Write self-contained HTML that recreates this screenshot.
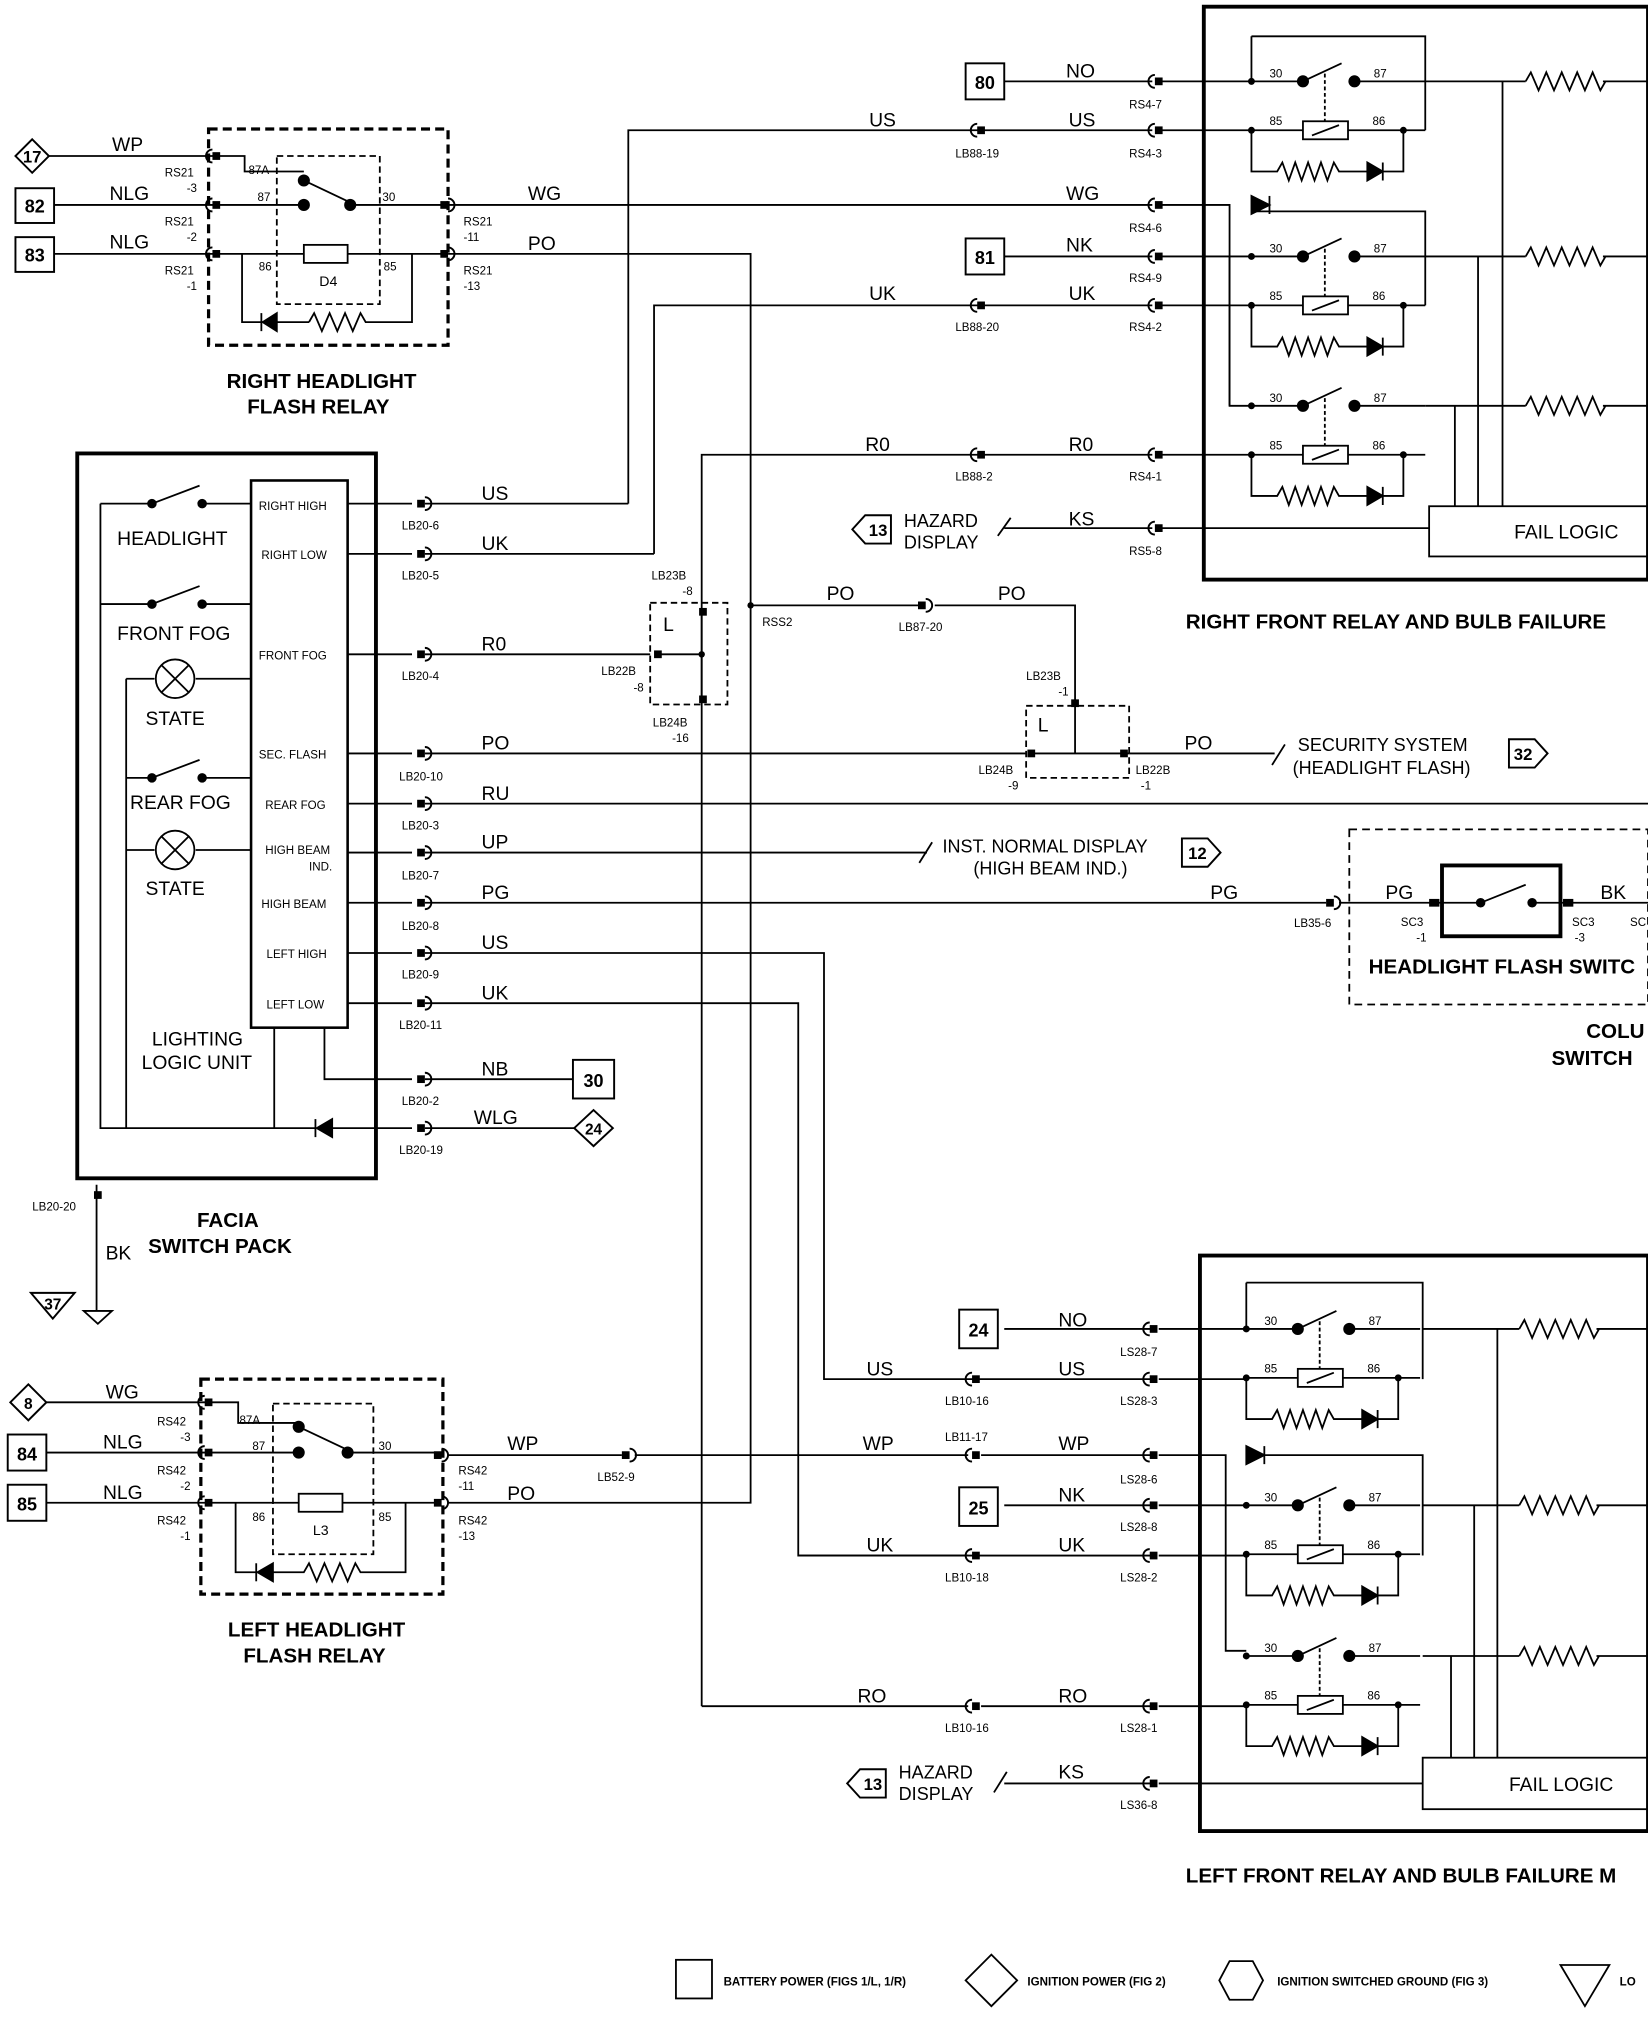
<!DOCTYPE html>
<html><head><meta charset="utf-8"><style>
html,body{margin:0;padding:0;background:#fff}
svg{display:block}
text{font-family:"Liberation Sans",sans-serif;fill:#000}
.w{font-size:15px}
.s{font-size:9px}
.b{font-size:16px;font-weight:bold}
.m{font-size:14px}
</style></head><body>
<svg width="1648" height="2018" viewBox="0 0 1280 1567" xmlns="http://www.w3.org/2000/svg">
<defs>
<g id="cn"><rect x="-3" y="-3" width="6" height="6" fill="#000"/><path d="M3,-5 A5,5 0 0 1 3,5" fill="none" stroke="#000" stroke-width="1.5"/></g>
<g id="cl"><rect x="-3" y="-3" width="6" height="6" fill="#000"/><path d="M-3,-5 A5,5 0 0 0 -3,5" fill="none" stroke="#000" stroke-width="1.5"/></g>
<g id="rl" fill="none" stroke="#000" stroke-width="1.4">
<path d="M0,0 H40 M40,0 L70,-14 M80,0 H135 M0,38 H40 M75,38 H135"/>
<circle cx="40" cy="0" r="4" fill="#000"/><circle cx="80" cy="0" r="4" fill="#000"/>
<rect x="40" y="31" width="35" height="14"/><path d="M47,42 L68,34"/>
<path d="M57,-6 V31" stroke-dasharray="3,2"/>
<path d="M0,38 V70 H20 l4,-7 l5,14 l5,-14 l5,14 l5,-14 l5,14 l5,-14 l5,14 l5,-14 l4,7 H90"/>
<path d="M90,63 V77 L102,70 Z" fill="#000"/><path d="M102,63 V77 M102,70 H118 V38"/>
<circle cx="0" cy="0" r="2" fill="#000"/><circle cx="0" cy="38" r="2" fill="#000"/><circle cx="118" cy="38" r="2" fill="#000"/>
<text x="14" y="-3" style="font-size:9px;stroke:none">30</text><text x="95" y="-3" style="font-size:9px;stroke:none">87</text>
<text x="14" y="34" style="font-size:9px;stroke:none">85</text><text x="94" y="34" style="font-size:9px;stroke:none">86</text>
</g>
<path id="zz" d="M0,0 l4,-7 l6,14 l6,-14 l6,14 l6,-14 l6,14 l6,-14 l6,14 l6,-14 l6,14 l4,-7" fill="none" stroke="#000" stroke-width="1.4"/>
</defs>
<g fill="none" stroke="#000" stroke-width="1.4">
<rect x="162" y="100" width="186" height="168" stroke-dasharray="7,4" stroke-width="2.5"/>
<rect x="215" y="121" width="80" height="115" stroke-dasharray="5,3"/>
<path d="M38,121 H168 M42,159 H168 M42,197 H168"/>
<path d="M168,121 H190 V133 H236 M168,159 H236 M236,140 L272,157 M272,159 H345 M168,197 H236 M270,197 H345"/>
<circle cx="236" cy="140" r="4" fill="#000"/><circle cx="236" cy="159" r="4" fill="#000"/><circle cx="272" cy="159" r="4" fill="#000"/>
<rect x="236" y="190" width="34" height="14"/>
<path d="M188,197 V250 H205 M215,250 H240 M240,250 l4,-7 l6,14 l6,-14 l6,14 l6,-14 l6,14 l6,-14 l4,7 H320 V197"/>
<path d="M215,243 V257 L204,250 Z" fill="#000"/><path d="M203,243 V257"/>
<path d="M348,159 H895 M348,197 H583 V1167 H348"/>
<path d="M488,391 V101 H895 M508,430 V237 H895 M545,1325 V353 H895"/>
<path d="M780,63 H895 M780,199 H895 M780,410 H895"/>
<rect x="935" y="5" width="345" height="445" stroke-width="3"/>
<path d="M900,63 H972 M900,101 H972 M900,199 H972 M900,237 H972 M900,353 H972 M900,159 H955 V315 H972"/>
<path d="M972,28 H1107 V101 M972,28 V63 M972,164 H1107 V237 M1107,63 H1185 M1245,63 H1280 M1107,199 H1185 M1245,199 H1280 M1107,315 H1185 M1245,315 H1280"/>
<path d="M972,159 L986,159" /><path d="M972,152 V166 L986,159 Z" fill="#000"/><path d="M986,152 V166"/>
<path d="M1167,63 V393 M1148,199 V393 M1130,315 V393 M955,199 V315"/>
<rect x="1110" y="393" width="170" height="39"/>
<path d="M900,410 H1110"/>
<path d="M775,416 l10,-14"/>
<rect x="60" y="352" width="232" height="563" stroke-width="3"/>
<rect x="195" y="373" width="75" height="425" stroke-width="2"/>
<path d="M78,391 H118 M118,391 L155,377 M157,391 H195 M78,391 V876 H245 M78,469 H118 L155,455 M157,469 H195 M98,527 H120 M152,527 H195 M98,527 V876 M98,604 H118 L155,590 M157,604 H195 M98,660 H120 M152,660 H195"/>
<circle cx="118" cy="391" r="3" fill="#000"/><circle cx="157" cy="391" r="3" fill="#000"/><circle cx="118" cy="469" r="3" fill="#000"/><circle cx="157" cy="469" r="3" fill="#000"/><circle cx="118" cy="604" r="3" fill="#000"/><circle cx="157" cy="604" r="3" fill="#000"/>
<circle cx="136" cy="527" r="15"/><path d="M125,516 L147,538 M147,516 L125,538"/>
<circle cx="136" cy="660" r="15"/><path d="M125,649 L147,671 M147,649 L125,671"/>
<path d="M213,798 V876 M252,798 V838 H320 M257,876 H320"/>
<path d="M258,869 V883 L246,876 Z" fill="#000"/><path d="M245,869 V883"/>
<path d="M270,391 H320 M270,430 H320 M270,508 H320 M270,585 H320 M270,624 H320 M270,662 H320 M270,701 H320 M270,740 H320 M270,779 H320"/>
<path d="M330,391 H488 M330,430 H508 M330,508 H505 M330,585 H797 M330,624 H1280 M330,662 H720 M330,701 H1030 M330,740 H640 V1071 H895 M330,779 H620 V1208 H895 M330,838 H445 M330,876 H447"/>
<path d="M714,670 l10,-16 M988,594 l10,-16"/>
<path d="M877,585 H990"/>
<rect x="505" y="468" width="60" height="79" stroke-dasharray="5,3"/>
<path d="M545,475 V545 M510,508 H545"/>
<path d="M583,470 H713 M726,470 H835 V548"/>
<rect x="797" y="548" width="80" height="56" stroke-dasharray="5,3"/>
<path d="M835,548 V585 M800,585 H877"/>
<path d="M75,920 V1018 M65,1018 H87 L76,1028 Z"/>
<rect x="1048" y="644" width="232" height="136" stroke-dasharray="6,4"/>
<rect x="1120" y="672" width="92" height="55" stroke-width="3"/>
<path d="M1040,701 H1150 L1185,687 M1190,701 H1280"/>
<circle cx="1150" cy="701" r="3" fill="#000"/><circle cx="1190" cy="701" r="3" fill="#000"/>
<rect x="156" y="1071" width="188" height="167" stroke-dasharray="7,4" stroke-width="2.5"/>
<rect x="212" y="1090" width="78" height="117" stroke-dasharray="5,3"/>
<path d="M36,1089 H162 M36,1128 H162 M36,1167 H162"/>
<path d="M162,1089 H185 V1105 H232 M162,1128 H232 M232,1108 L270,1126 M270,1128 H340 M162,1167 H232 M266,1167 H340"/>
<circle cx="232" cy="1108" r="4" fill="#000"/><circle cx="232" cy="1128" r="4" fill="#000"/><circle cx="270" cy="1128" r="4" fill="#000"/>
<rect x="232" y="1160" width="34" height="14"/>
<path d="M183,1167 V1221 H200 M212,1221 H236 l4,-7 l6,14 l6,-14 l6,14 l6,-14 l6,14 l6,-14 l4,7 H315 V1167"/>
<path d="M212,1214 V1228 L200,1221 Z" fill="#000"/><path d="M199,1214 V1228"/>
<path d="M348,1130 H483 M493,1130 H752 M762,1130 H895"/>
<path d="M545,1325 H752 M762,1325 H895 M620,1208 H752 M780,1032 H895 M780,1169 H895 M780,1385 H895"/>
<path d="M772,1392 l10,-16"/>
<rect x="932" y="975" width="348" height="447" stroke-width="3"/>
<path d="M900,1032 H968 M900,1071 H968 M900,1169 H968 M900,1208 H968 M900,1325 H968 M900,1130 H952 V1282 H968"/>
<path d="M968,996 H1105 V1071 M968,996 V1032 M968,1130 H1105 V1208"/>
<path d="M968,1123 V1137 L982,1130 Z" fill="#000"/><path d="M982,1123 V1137"/>
<path d="M1105,1032 H1180 M1240,1032 H1280 M1105,1169 H1180 M1240,1169 H1280 M1105,1286 H1180 M1240,1286 H1280"/>
<path d="M1163,1032 V1365 M1145,1169 V1365 M1127,1286 V1365"/>
<rect x="1105" y="1365" width="175" height="40"/>
<path d="M900,1385 H1105"/>
<rect x="525" y="1522" width="28" height="30"/>
<path d="M770,1518 L790,1538 L770,1558 L750,1538 Z"/>
<path d="M955,1523 H973 L981,1538 L973,1553 H955 L947,1538 Z"/>
<path d="M1212,1526 H1250 L1231,1558 Z"/>
</g>
<use href="#zz" x="1185" y="63"/><use href="#zz" x="1185" y="199"/><use href="#zz" x="1185" y="315"/>
<use href="#zz" x="1180" y="1032"/><use href="#zz" x="1180" y="1169"/><use href="#zz" x="1180" y="1286"/>
<use href="#rl" x="972" y="63"/><use href="#rl" x="972" y="199"/><use href="#rl" x="972" y="315"/>
<use href="#rl" x="968" y="1032"/><use href="#rl" x="968" y="1169"/><use href="#rl" x="968" y="1286"/>
<use href="#cl" x="168" y="121"/><use href="#cl" x="168" y="159"/><use href="#cl" x="168" y="197"/>
<use href="#cn" x="345" y="159"/><use href="#cn" x="345" y="197"/>
<use href="#cl" x="900" y="63"/><use href="#cl" x="900" y="101"/><use href="#cl" x="900" y="159"/><use href="#cl" x="900" y="199"/><use href="#cl" x="900" y="237"/><use href="#cl" x="900" y="353"/><use href="#cl" x="900" y="410"/>
<use href="#cl" x="762" y="101"/><use href="#cl" x="762" y="237"/><use href="#cl" x="762" y="353"/>
<use href="#cn" x="327" y="391"/><use href="#cn" x="327" y="430"/><use href="#cn" x="327" y="508"/><use href="#cn" x="327" y="585"/><use href="#cn" x="327" y="624"/><use href="#cn" x="327" y="662"/><use href="#cn" x="327" y="701"/><use href="#cn" x="327" y="740"/><use href="#cn" x="327" y="779"/><use href="#cn" x="327" y="838"/><use href="#cn" x="327" y="876"/>
<use href="#cn" x="716" y="470"/><use href="#cn" x="1033" y="701"/>
<rect x="543" y="472" width="6" height="6"/><rect x="543" y="540" width="6" height="6"/><rect x="508" y="505" width="6" height="6"/>
<rect x="832" y="543" width="6" height="6"/><rect x="798" y="582" width="6" height="6"/><rect x="870" y="582" width="6" height="6"/>
<rect x="1110" y="698" width="8" height="6"/><rect x="1214" y="698" width="8" height="6"/>
<rect x="73" y="925" width="6" height="6"/>
<circle cx="583" cy="470" r="2.5"/><circle cx="545" cy="508" r="2.5"/>
<use href="#cl" x="162" y="1089"/><use href="#cl" x="162" y="1128"/><use href="#cl" x="162" y="1167"/>
<use href="#cn" x="340" y="1130"/><use href="#cn" x="340" y="1167"/><use href="#cn" x="486" y="1130"/>
<use href="#cl" x="896" y="1032"/><use href="#cl" x="896" y="1071"/><use href="#cl" x="896" y="1130"/><use href="#cl" x="896" y="1169"/><use href="#cl" x="896" y="1208"/><use href="#cl" x="896" y="1325"/><use href="#cl" x="896" y="1385"/>
<use href="#cl" x="758" y="1071"/><use href="#cl" x="758" y="1130"/><use href="#cl" x="758" y="1208"/><use href="#cl" x="758" y="1325"/>
<g fill="#fff" stroke="#000" stroke-width="1.5">
<path d="M25,108 L38,121 L25,134 L12,121 Z"/>
<rect x="12" y="146" width="30" height="27"/><rect x="12" y="184" width="30" height="27"/>
<rect x="750" y="49" width="30" height="28"/><rect x="750" y="185" width="30" height="28"/>
<path d="M662,411 L672,400 H692 V422 H672 Z"/><path d="M1172,574 H1192 L1202,585 L1192,596 H1172 Z"/>
<path d="M918,651 H938 L948,662 L938,673 H918 Z"/>
<rect x="445" y="823" width="32" height="30"/><path d="M461,862 L476,876 L461,890 L446,876 Z"/>
<path d="M24,1004 H58 L41,1024 Z"/>
<path d="M22,1075 L36,1089 L22,1103 L8,1089 Z"/>
<rect x="6" y="1114" width="30" height="28"/><rect x="6" y="1153" width="30" height="28"/>
<rect x="745" y="1017" width="30" height="30"/><rect x="745" y="1155" width="30" height="30"/>
<path d="M658,1385 L668,1374 H688 V1396 H668 Z"/>
</g>
<g class="m" font-weight="bold" text-anchor="middle">
<text x="25" y="126" style="font-size:13px">17</text><text x="27" y="165">82</text><text x="27" y="203">83</text>
<text x="765" y="69">80</text><text x="765" y="205">81</text>
<text x="682" y="416" style="font-size:13px">13</text><text x="1183" y="590" style="font-size:13px">32</text><text x="930" y="667" style="font-size:13px">12</text>
<text x="461" y="844">30</text><text x="461" y="881" style="font-size:12px">24</text><text x="41" y="1017" style="font-size:12px">37</text>
<text x="22" y="1094" style="font-size:12px">8</text><text x="21" y="1134">84</text><text x="21" y="1173">85</text>
<text x="760" y="1038">24</text><text x="760" y="1176">25</text><text x="678" y="1390" style="font-size:13px">13</text>
</g>
<g class="w">
<text x="87" y="117">WP</text><text x="85" y="155">NLG</text><text x="85" y="193">NLG</text>
<text x="410" y="155">WG</text><text x="410" y="194">PO</text>
<text x="675" y="98">US</text><text x="830" y="98">US</text><text x="828" y="60">NO</text><text x="828" y="155">WG</text><text x="828" y="195">NK</text>
<text x="675" y="233">UK</text><text x="830" y="233">UK</text><text x="672" y="350">R0</text><text x="830" y="350">R0</text><text x="830" y="408">KS</text>
<text x="374" y="388">US</text><text x="374" y="427">UK</text><text x="374" y="505">R0</text><text x="374" y="582">PO</text><text x="374" y="621">RU</text><text x="374" y="659">UP</text><text x="374" y="698">PG</text><text x="374" y="737">US</text><text x="374" y="776">UK</text><text x="374" y="835">NB</text><text x="368" y="873">WLG</text>
<text x="642" y="466">PO</text><text x="775" y="466">PO</text><text x="920" y="582">PO</text><text x="940" y="698">PG</text>
<text x="1076" y="698">PG</text><text x="1243" y="698">BK</text>
<text x="82" y="978">BK</text>
<text x="82" y="1086">WG</text><text x="80" y="1125">NLG</text><text x="80" y="1164">NLG</text>
<text x="394" y="1126">WP</text><text x="394" y="1165">PO</text>
<text x="670" y="1126">WP</text><text x="822" y="1126">WP</text><text x="822" y="1030">NO</text><text x="673" y="1068">US</text><text x="822" y="1068">US</text><text x="822" y="1166">NK</text><text x="673" y="1205">UK</text><text x="822" y="1205">UK</text><text x="666" y="1322">RO</text><text x="822" y="1322">RO</text><text x="822" y="1381">KS</text>
</g>
<g class="m">
<text x="702" y="409">HAZARD</text><text x="702" y="426">DISPLAY</text>
<text x="1008" y="583">SECURITY SYSTEM</text><text x="1004" y="601">(HEADLIGHT FLASH)</text>
<text x="732" y="662">INST. NORMAL DISPLAY</text><text x="756" y="679">(HIGH BEAM IND.)</text>
<text x="1176" y="418" style="font-size:15px">FAIL LOGIC</text><text x="1172" y="1391" style="font-size:15px">FAIL LOGIC</text>
<text x="698" y="1381">HAZARD</text><text x="698" y="1398">DISPLAY</text>
<text x="91" y="423" style="font-size:15px">HEADLIGHT</text><text x="91" y="497" style="font-size:15px">FRONT FOG</text><text x="113" y="563" style="font-size:15px">STATE</text>
<text x="101" y="628" style="font-size:15px">REAR FOG</text><text x="113" y="695" style="font-size:15px">STATE</text>
<text x="118" y="812" style="font-size:15px">LIGHTING</text><text x="110" y="830" style="font-size:15px">LOGIC UNIT</text>
</g>
<g class="s">
<text x="201" y="396">RIGHT HIGH</text><text x="203" y="434">RIGHT LOW</text><text x="201" y="512">FRONT FOG</text><text x="201" y="589">SEC. FLASH</text><text x="206" y="628">REAR FOG</text><text x="206" y="663">HIGH BEAM</text><text x="240" y="676">IND.</text><text x="203" y="705">HIGH BEAM</text><text x="207" y="744">LEFT HIGH</text><text x="207" y="783">LEFT LOW</text>
<text x="312" y="411">LB20-6</text><text x="312" y="450">LB20-5</text><text x="312" y="528">LB20-4</text><text x="310" y="606">LB20-10</text><text x="312" y="644">LB20-3</text><text x="312" y="683">LB20-7</text><text x="312" y="722">LB20-8</text><text x="312" y="760">LB20-9</text><text x="310" y="799">LB20-11</text><text x="312" y="858">LB20-2</text><text x="310" y="896">LB20-19</text>
<text x="25" y="940">LB20-20</text>
<text x="128" y="137">RS21</text><text x="145" y="149">-3</text><text x="128" y="175">RS21</text><text x="145" y="187">-2</text><text x="128" y="213">RS21</text><text x="145" y="225">-1</text>
<text x="193" y="135">87A</text><text x="200" y="156">87</text><text x="297" y="156">30</text><text x="201" y="210">86</text><text x="298" y="210">85</text><text x="248" y="222" style="font-size:11px">D4</text>
<text x="360" y="175">RS21</text><text x="360" y="187">-11</text><text x="360" y="213">RS21</text><text x="360" y="225">-13</text>
<text x="742" y="122">LB88-19</text><text x="877" y="84">RS4-7</text><text x="877" y="122">RS4-3</text><text x="877" y="180">RS4-6</text><text x="877" y="219">RS4-9</text><text x="877" y="257">RS4-2</text><text x="742" y="257">LB88-20</text><text x="742" y="373">LB88-2</text><text x="877" y="373">RS4-1</text><text x="877" y="431">RS5-8</text>
<text x="506" y="450">LB23B</text><text x="530" y="462">-8</text><text x="467" y="524">LB22B</text><text x="492" y="537">-8</text><text x="507" y="564">LB24B</text><text x="522" y="576">-16</text>
<text x="592" y="486">RSS2</text><text x="698" y="490">LB87-20</text>
<text x="797" y="528">LB23B</text><text x="822" y="540">-1</text><text x="760" y="601">LB24B</text><text x="783" y="613">-9</text><text x="882" y="601">LB22B</text><text x="886" y="613">-1</text>
<text x="1005" y="720">LB35-6</text><text x="1088" y="719">SC3</text><text x="1100" y="731">-1</text><text x="1221" y="719">SC3</text><text x="1223" y="731">-3</text><text x="1266" y="719">SC</text>
<text x="122" y="1107">RS42</text><text x="140" y="1119">-3</text><text x="122" y="1145">RS42</text><text x="140" y="1157">-2</text><text x="122" y="1184">RS42</text><text x="140" y="1196">-1</text>
<text x="186" y="1106">87A</text><text x="196" y="1126">87</text><text x="294" y="1126">30</text><text x="196" y="1181">86</text><text x="294" y="1181">85</text><text x="243" y="1192" style="font-size:11px">L3</text>
<text x="356" y="1145">RS42</text><text x="356" y="1157">-11</text><text x="356" y="1184">RS42</text><text x="356" y="1196">-13</text>
<text x="464" y="1150">LB52-9</text><text x="734" y="1119">LB11-17</text><text x="870" y="1053">LS28-7</text><text x="734" y="1091">LB10-16</text><text x="870" y="1091">LS28-3</text><text x="870" y="1152">LS28-6</text><text x="870" y="1189">LS28-8</text><text x="734" y="1228">LB10-18</text><text x="870" y="1228">LS28-2</text><text x="734" y="1345">LB10-16</text><text x="870" y="1345">LS28-1</text><text x="870" y="1405">LS36-8</text>
<text x="562" y="1542" font-weight="bold">BATTERY POWER (FIGS 1/L, 1/R)</text><text x="798" y="1542" font-weight="bold">IGNITION POWER (FIG 2)</text><text x="992" y="1542" font-weight="bold">IGNITION SWITCHED GROUND (FIG 3)</text><text x="1258" y="1542" font-weight="bold">LO</text>
</g>
<g class="w"><text x="515" y="490">L</text><text x="806" y="568">L</text></g>
<g class="b">
<text x="176" y="301">RIGHT HEADLIGHT</text><text x="192" y="321">FLASH RELAY</text>
<text x="921" y="488">RIGHT FRONT RELAY AND BULB FAILURE</text>
<text x="153" y="953">FACIA</text><text x="115" y="973">SWITCH PACK</text>
<text x="1063" y="756">HEADLIGHT FLASH SWITC</text><text x="1232" y="806">COLU</text><text x="1205" y="827">SWITCH</text>
<text x="177" y="1271">LEFT HEADLIGHT</text><text x="189" y="1291">FLASH RELAY</text>
<text x="921" y="1462">LEFT FRONT RELAY AND BULB FAILURE M</text>
</g>
</svg>
</body></html>
